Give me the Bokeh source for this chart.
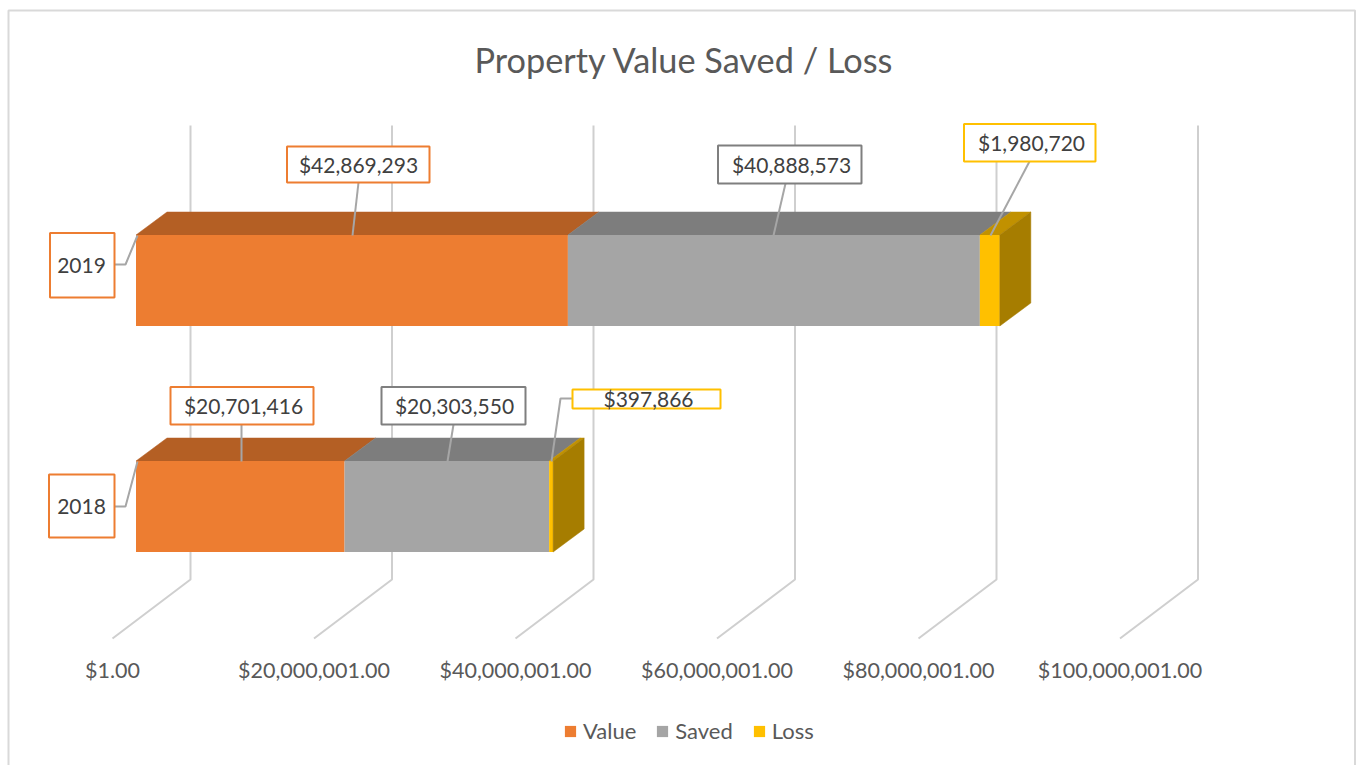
from bokeh.core.properties import value
from bokeh.embed import file_html
from bokeh.models import ColumnDataSource, Legend, LegendItem, Range1d
from bokeh.plotting import figure
from bokeh.resources import INLINE

# ---- data ----
title = "Property Value Saved / Loss"
years = ["2018", "2019"]
series = ["Value", "Saved", "Loss"]
value_vals = [20701416, 42869293]
saved_vals = [20303550, 40888573]
loss_vals = [397866, 1980720]
tick_vals = [1, 20000001, 40000001, 60000001, 80000001, 100000001]
tick_labels = ["$1.00", "$20,000,001.00", "$40,000,001.00",
               "$60,000,001.00", "$80,000,001.00", "$100,000,001.00"]

# ---- style ----
FONT = "Lato"
front = ["#ED7D31", "#A5A5A5", "#FFC000"]
top = ["#B45F24", "#7D7D7D", "#C19100"]
side = "#A67D00"
W, H = 1356, 765
PX_PER_USD = 201.5 / 20e6
PX_PER_ROW = 226.0
ORIGIN_X, ROW0_Y = 135.5, 506.0   # px of $0 and of the 2018 row centre
HALF_BAR = 45.5
DEPTH_X, DEPTH_Y = 31, 23


def X(px):
    return (px - ORIGIN_X) / PX_PER_USD


def Y(py):
    return (ROW0_Y - py) / PX_PER_ROW


p = figure(width=W, height=H, output_backend="svg", toolbar_location=None,
           x_range=Range1d(X(0), X(W)), y_range=Range1d(Y(H), Y(0)),
           min_border=0, outline_line_color=None)
p.xaxis.visible = False
p.yaxis.visible = False
p.grid.visible = False
p.background_fill_color = "white"
p.border_fill_color = "white"

dx = DEPTH_X / PX_PER_USD
dy = DEPTH_Y / PX_PER_ROW
half = HALF_BAR / PX_PER_ROW

# chart frame
p.line([X(8), X(8), X(1354.5), X(1354.5)], [Y(800), Y(10), Y(10), Y(800)],
       line_color="#D9D9D9", line_width=2)

# gridlines: back wall + floor
floor_xs, floor_ys = [], []
for t in tick_vals:
    floor_xs.append([t + X(190), t + X(190), t + X(112)])
    floor_ys.append([Y(125), Y(579), Y(638)])
p.multi_line(floor_xs, floor_ys, line_color="#CFCFCF", line_width=2)

# stacked bars
rows = list(range(len(years)))
left = [0.0 for _ in rows]
front_renderers = []
for name, vals, fc, tc in zip(series, [value_vals, saved_vals, loss_vals], front, top):
    right = [a + b for a, b in zip(left, vals)]
    top_xs = [[l, r, r + dx, l + dx] for l, r in zip(left, right)]
    top_ys = [[y + half, y + half, y + half + dy, y + half + dy] for y in rows]
    p.patches(top_xs, top_ys, fill_color=tc, line_color=tc, line_width=0.5)
    src = ColumnDataSource(dict(y=rows, left=left, right=right))
    r = p.hbar(y="y", left="left", right="right", height=2 * half, source=src,
               fill_color=fc, line_color=None)
    front_renderers.append(r)
    left = right

side_xs = [[r, r + dx, r + dx, r] for r in left]
side_ys = [[y + half, y + half + dy, y - half + dy, y - half] for y in rows]
p.patches(side_xs, side_ys, fill_color=side, line_color=side, line_width=0.5)

# data-label leaders and boxes: text, colour, box l/r/t/b, text centre, leader path (px)
labels = [
    ("2019", front[0], 49.5, 114, 232.5, 297, 81, 265, [(114, 264), (125, 264), (137, 235)]),
    ("2018", front[0], 48.5, 114, 474, 537, 81, 506, [(114, 506), (125, 506), (137, 461)]),
    ("$42,869,293", front[0], 286.5, 429, 146, 182, 358, 164, [(358, 182), (352, 235)]),
    ("$40,888,573", "#7F7F7F", 717.5, 861, 145, 183, 791, 164, [(785, 183), (773, 235)]),
    ("$1,980,720", front[2], 963.5, 1095, 123.5, 161, 1031, 141.5, [(1029, 161), (990, 235)]),
    ("$20,701,416", front[0], 170, 313, 386.5, 424, 243, 405, [(241, 424), (241, 461)]),
    ("$20,303,550", "#7F7F7F", 381, 525, 386.5, 424, 454, 405, [(453, 424), (447, 461)]),
    ("$397,866", front[2], 572, 720, 389, 408, 648, 398, [(572, 398), (560, 398), (551, 461)]),
]
for txt, col, l, r_, t_, b, cx, cy, path in labels:
    p.line([X(a) for a, _ in path], [Y(c) for _, c in path],
           line_color="#A6A6A6", line_width=2)
    p.quad(left=[X(l)], right=[X(r_)], top=[Y(t_)], bottom=[Y(b)],
           fill_color="white", line_color=col, line_width=2)
    p.text([X(cx)], [Y(cy)], text=[txt], text_font=value(FONT), text_font_size="21px",
           text_color="#404040", text_align="center", text_baseline="middle")

# axis tick labels
p.text([t + X(112) for t in tick_vals], [Y(669)] * len(tick_vals), text=tick_labels,
       text_font=value(FONT), text_font_size="21.5px", text_color="#595959",
       text_align="center", text_baseline="middle")

# title
p.text([X(684)], [Y(58.5)], text=[title], text_font=value(FONT), text_font_size="34.3px",
       text_color="#595959", text_align="center", text_baseline="middle")

# legend
legend = Legend(
    items=[LegendItem(label=s, renderers=[r]) for s, r in zip(series, front_renderers)],
    orientation="horizontal", location=(563, 21),
    glyph_width=14, glyph_height=14, label_standoff=6, spacing=19,
    padding=0, margin=0, border_line_color=None, background_fill_alpha=0,
    label_text_font=FONT, label_text_font_size="22px", label_text_color="#595959",
)
p.add_layout(legend, "center")

open("out.html", "w").write(file_html(p, INLINE))
